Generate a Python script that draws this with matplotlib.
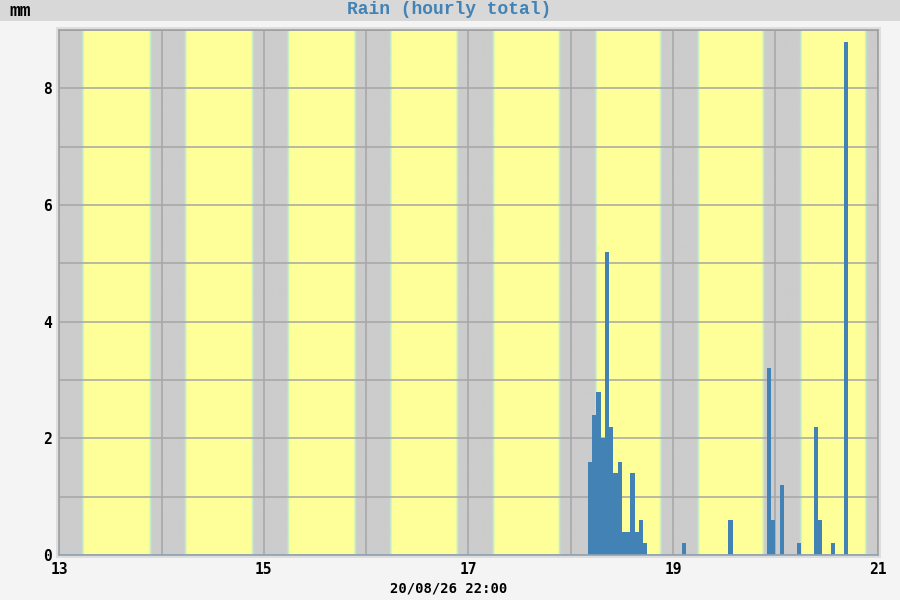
import numpy as np
import matplotlib
matplotlib.use("Agg")
import matplotlib.pyplot as plt
from matplotlib.patches import Rectangle

# hourly rain totals, bars start at day-of-month + hour
RAIN_DAY = [18, 18, 18, 18, 18, 18, 18, 18, 18, 18, 18, 18, 18, 18,
            19, 19, 19, 19, 20, 20, 20, 20, 20, 20]
RAIN_HOUR = [4, 5, 6, 7, 8, 9, 10, 11, 12, 13, 14, 15, 16, 17,
             2, 13, 22, 23, 1, 5, 9, 10, 13, 16]
RAIN_MM = [1.6, 2.4, 2.8, 2.0, 5.2, 2.2, 1.4, 1.6, 0.4, 0.4, 1.4, 0.4, 0.6, 0.2,
           0.2, 0.6, 3.2, 0.6, 1.2, 0.2, 2.2, 0.6, 0.2, 8.8]

# daylight bands (local hours, middle of the twilight edge)
SUN_DAYS = [13, 14, 15, 16, 17, 18, 19, 20]
SUNRISE = [5.6, 5.65, 5.75, 5.8, 5.85, 5.9, 5.9, 5.95]
SUNSET = [21.45, 21.4, 21.45, 21.4, 21.35, 21.1, 21.15, 21.2]

X_TICKS = [13, 15, 17, 19, 21]
Y_TICKS = [0, 2, 4, 6, 8]
TITLE = "Rain (hourly total)"
UNIT_LABEL = "mm"
TIME_LABEL = "20/08/26 22:00"

X_MIN, X_MAX = 13, 21
Y_MIN, Y_MAX = 0, 9

BAR_COLOR = "#4282b4"
NIGHT_RGB = np.array([204, 204, 204]) / 255.0
EDGE_RGB = np.array([190, 236, 205]) / 255.0
DAY_RGB = np.array([255, 255, 153]) / 255.0
TWILIGHT_H = 0.35  # half width of the day/night edge in hours


def daynight_image():
    """build an rgb strip for the day/night background"""
    x = np.linspace(X_MIN, X_MAX, (X_MAX - X_MIN) * 24 * 30)
    light = np.zeros_like(x)
    for day, rise, sset in zip(SUN_DAYS, SUNRISE, SUNSET):
        hours = (x - day) * 24.0
        up = np.clip((hours - rise) / (2 * TWILIGHT_H) + 0.5, 0, 1)
        down = np.clip((sset - hours) / (2 * TWILIGHT_H) + 0.5, 0, 1)
        light = np.maximum(light, np.minimum(up, down))
    rgb = np.zeros((1, len(x), 3))
    for i, t in enumerate(light):
        if t < 0.5:
            c = NIGHT_RGB + (EDGE_RGB - NIGHT_RGB) * (t * 2)
        else:
            c = EDGE_RGB + (DAY_RGB - EDGE_RGB) * ((t - 0.5) * 2)
        rgb[0, i] = c
    return rgb


def draw_chart():
    fig = plt.figure(figsize=(9, 6), dpi=100, facecolor="#f4f4f4")
    left, right, bottom, top = 59.3 / 900, 877.6 / 900, 45 / 600, 570 / 600

    # title band and light frame around the plot
    fig.add_artist(Rectangle((0, 1 - 21 / 600), 1, 21 / 600, transform=fig.transFigure,
                             facecolor="#d8d8d8", edgecolor="none", zorder=-2))
    fig.add_artist(Rectangle((left - 3 / 900, bottom - 3 / 600),
                             right - left + 6 / 900, top - bottom + 6 / 600,
                             transform=fig.transFigure, facecolor="#dedede",
                             edgecolor="none", zorder=-2))

    ax = fig.add_axes([left, bottom, right - left, top - bottom])
    ax.imshow(daynight_image(), extent=[X_MIN, X_MAX, Y_MIN, Y_MAX], aspect="auto",
              interpolation="bilinear", zorder=0)

    for d in range(X_MIN, X_MAX + 1):
        ax.axvline(d, color="#a6a6a6", lw=1.1, zorder=1)
    for v in range(Y_MIN, Y_MAX + 1):
        ax.axhline(v, color="#a6a6a6", lw=1.1, zorder=1)

    x_start = [d + h / 24.0 for d, h in zip(RAIN_DAY, RAIN_HOUR)]
    ax.bar(x_start, RAIN_MM, width=1 / 24.0, align="edge", color=BAR_COLOR,
           linewidth=0, zorder=2)

    ax.set_xlim(X_MIN, X_MAX)
    ax.set_ylim(Y_MIN, Y_MAX)
    ax.set_xticks(X_TICKS)
    ax.set_yticks(Y_TICKS)
    tick_font = {"family": "DejaVu Sans Mono", "weight": "bold", "size": 10.5}
    ax.set_xticklabels([str(t) for t in X_TICKS], fontdict=tick_font)
    ax.set_yticklabels([str(t) for t in Y_TICKS], fontdict=tick_font)
    ax.tick_params(length=0, pad=5)
    for name, spine in ax.spines.items():
        spine.set_color("#a0a0a0")
        spine.set_linewidth(1.2)
    ax.spines["bottom"].set_color("#8fa3b5")

    fig.text(449 / 900, 1 - 10 / 600, TITLE, ha="center", va="center", color=BAR_COLOR,
             family="Liberation Mono", weight="bold", fontsize=13)
    fig.text(9 / 900, 1 - 11 / 600, UNIT_LABEL, ha="left", va="center", color="black",
             family="Liberation Mono", weight="bold", fontsize=13)
    fig.text(449 / 900, 1 - 589 / 600, TIME_LABEL, ha="center", va="center", color="black",
             family="DejaVu Sans Mono", weight="bold", fontsize=10)

    fig.savefig("out.png", dpi=100, facecolor=fig.get_facecolor())


def main():
    draw_chart()


if __name__ == "__main__":
    main()
